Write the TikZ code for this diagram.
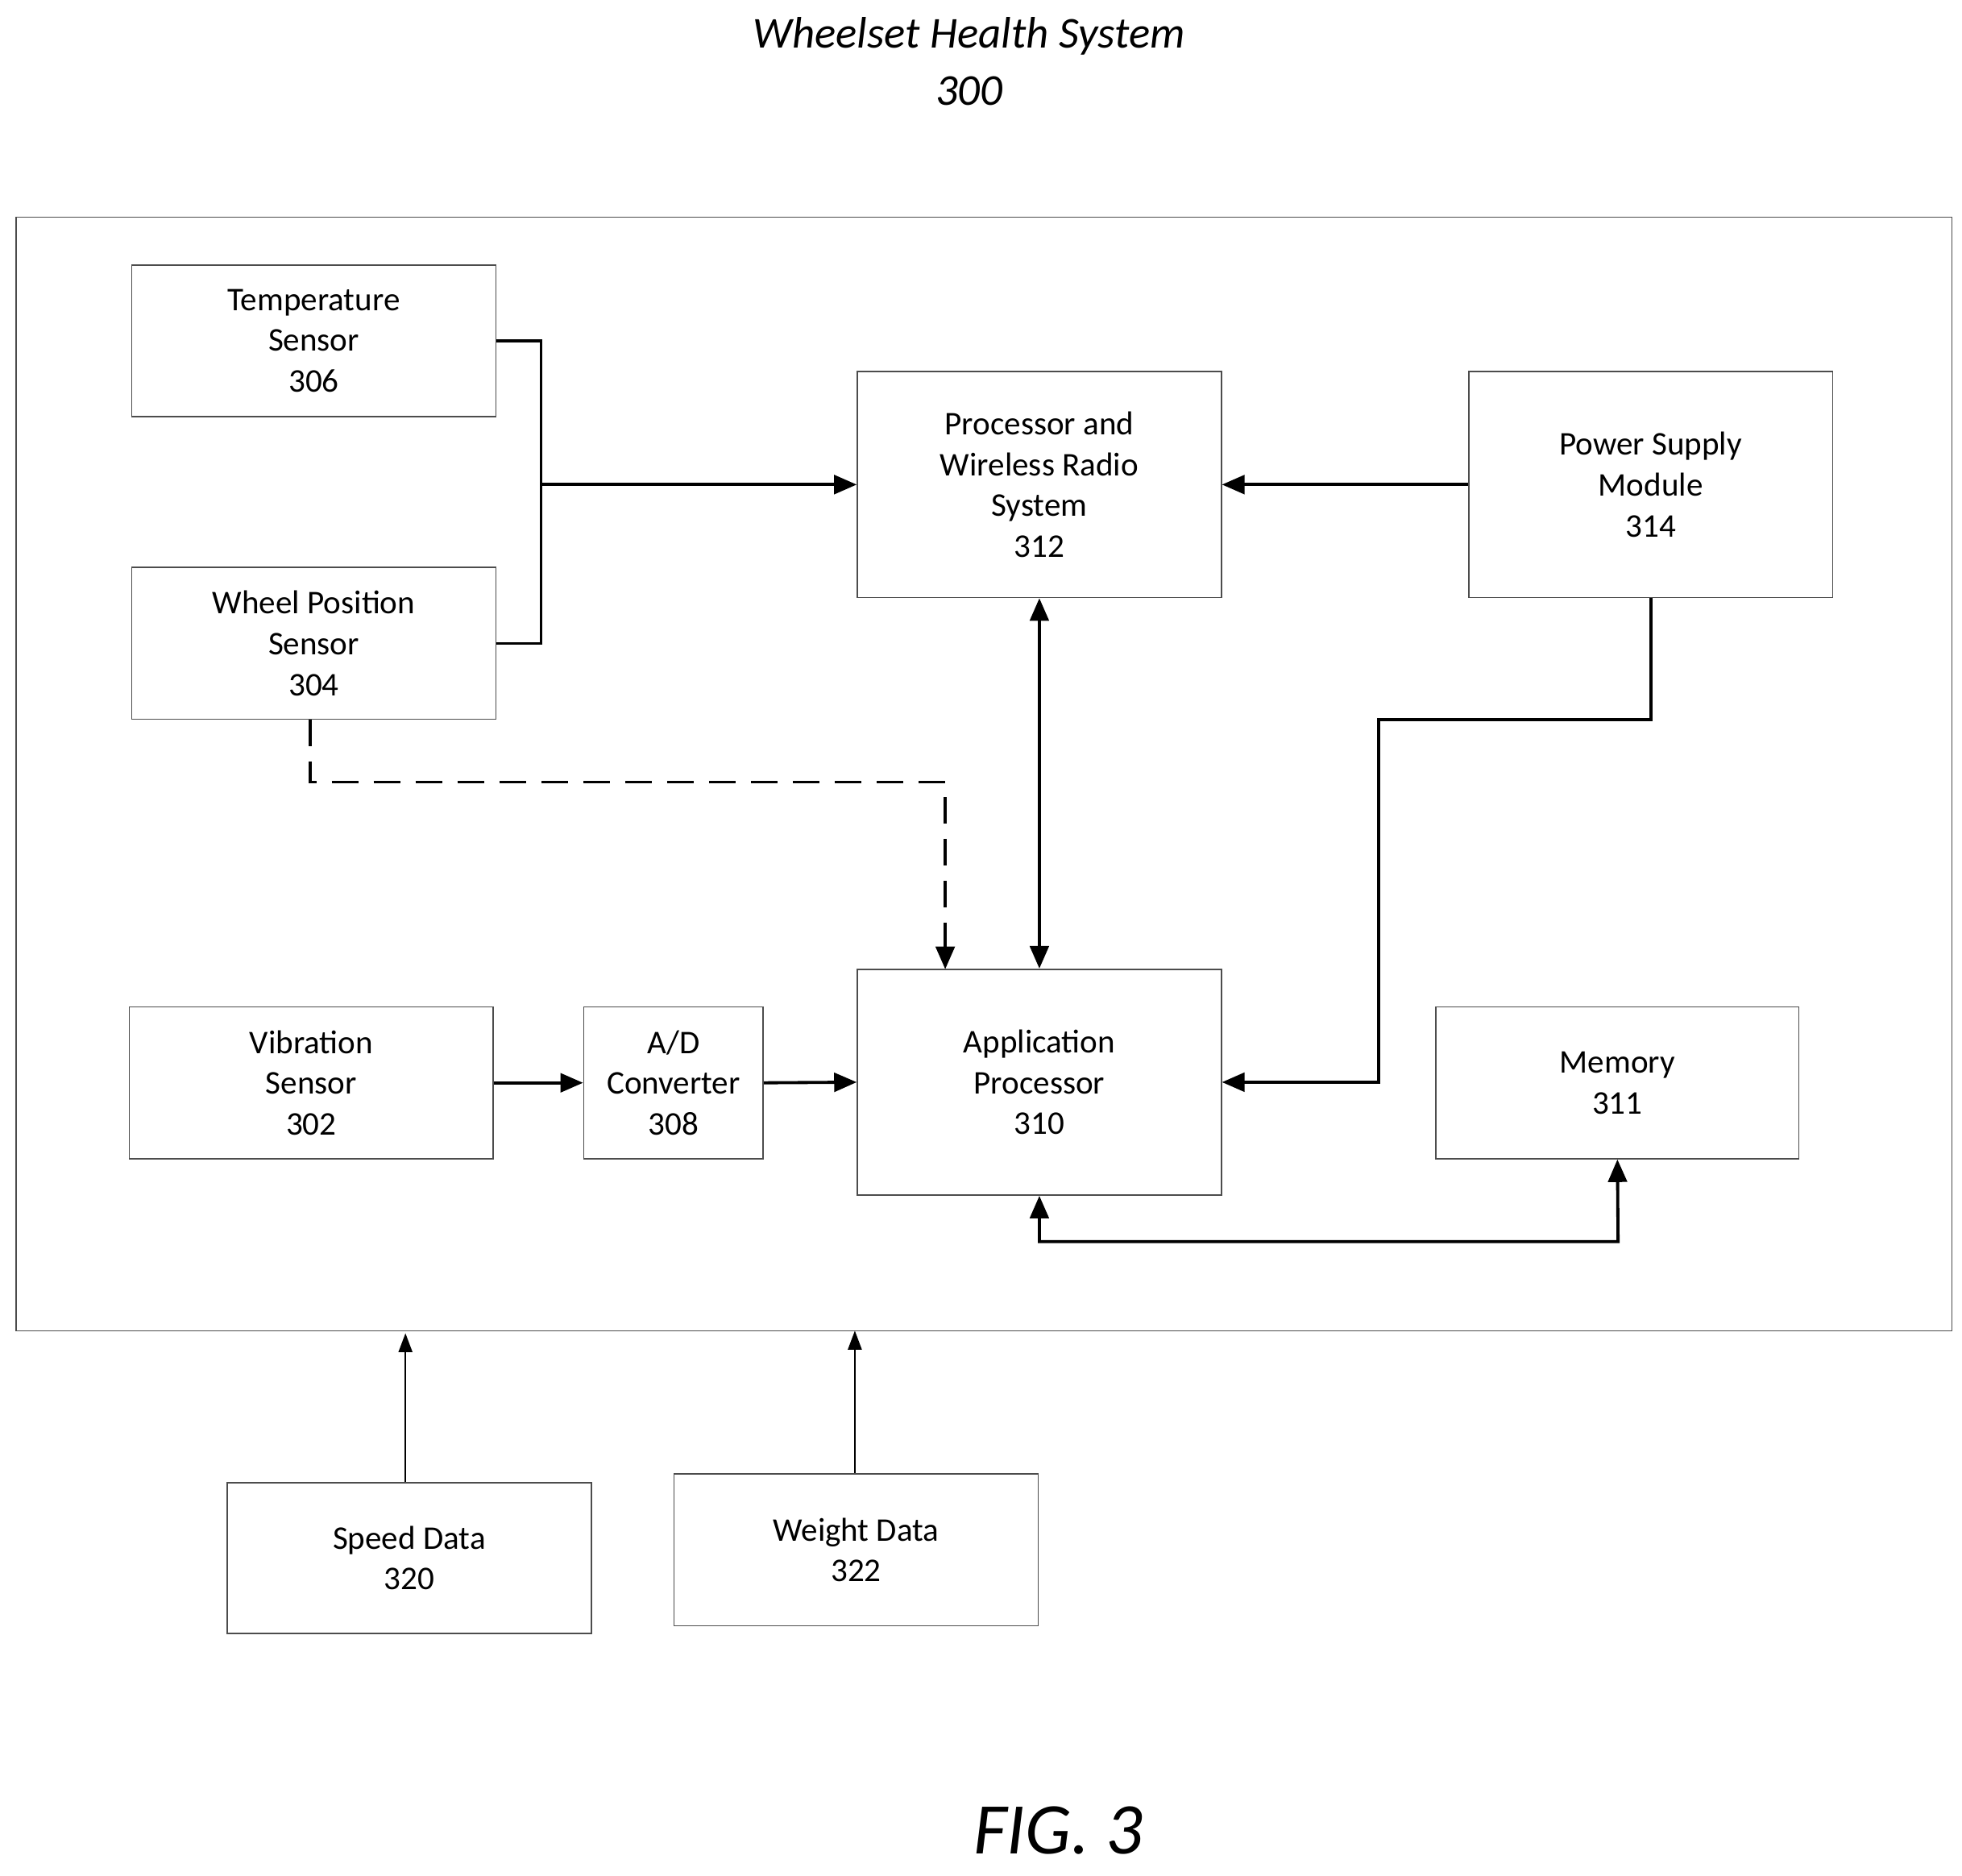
\documentclass[tikz,border=0pt]{standalone}
\usepackage{fontspec}
\setmainfont{Carlito}
\usetikzlibrary{arrows.meta}
\begin{document}
\begin{tikzpicture}[x=0.02cm,y=-0.02cm,
  box/.style={draw=black!70,line width=0.6pt,align=center,inner sep=0pt,font=\fontsize{15}{18.5}\selectfont},
  conn/.style={line width=1.4pt},
  arr/.style={conn,-{Triangle[length=0.36cm,width=0.3cm]}},
  darr/.style={conn,{Triangle[length=0.36cm,width=0.3cm]}-{Triangle[length=0.36cm,width=0.3cm]}}]
\useasboundingbox (0,0) rectangle (1563,1494);
\node[font=\itshape\fontsize{20}{26}\selectfont,align=center] (title) at (772,49) {Wheelset Health System\\300};
\node[font=\itshape\fontsize{33}{40}\selectfont] (fig) at (843,1458) {FIG. 3};
\node[draw=black!70,line width=0.6pt,minimum width=1542*0.02cm,minimum height=887*0.02cm] (outer) at (784,616.5) {};
\node[box,minimum width=5.8cm,minimum height=2.42cm] (t) at (250,271.5) {Temperature\\Sensor\\306};
\node[box,minimum width=5.8cm,minimum height=2.42cm] (w) at (250,512.5) {Wheel Position\\Sensor\\304};
\node[box,minimum width=5.8cm,minimum height=3.6cm] (p) at (828,386) {Processor and\\Wireless Radio\\System\\312};
\node[box,minimum width=5.8cm,minimum height=3.6cm] (ps) at (1315,386) {Power Supply\\Module\\314};
\node[box,minimum width=5.8cm,minimum height=2.42cm] (v) at (248,862.5) {Vibration\\Sensor\\302};
\node[box,minimum width=2.86cm,minimum height=2.42cm] (ad) at (536.5,862.5) {A/D\\Converter\\308};
\node[box,minimum width=5.8cm,minimum height=3.6cm] (a) at (828,862) {Application\\Processor\\310};
\node[box,minimum width=5.78cm,minimum height=2.42cm] (m) at (1288.5,862.5) {Memory\\311};
\node[box,minimum width=5.8cm,minimum height=2.4cm] (s) at (326,1241) {Speed Data\\320};
\node[box,minimum width=5.8cm,minimum height=2.42cm] (wd) at (682,1234.5) {Weight Data\\322};
\coordinate (j) at (431,386);
\draw[conn] (t.east) -| (j) |- (w.east);
\draw[arr] (j) -- (p.west);
\draw[arr] (ps.west) -- (p.east);
\draw[darr] (p.south) -- (a.north);
\draw[arr] (ps.south) |- (1098,573) |- (a.east);
\draw[arr,dash pattern=on 12pt off 7pt] (w.south -| 247,0) -- (247,623) -| (753,772);
\draw[arr] (v.east) -- (ad.west);
\draw[arr] (ad.east) -- (a.west);
\draw[darr] (a.south) |- (1289,989) -- (m.south);
\draw[-{Triangle[length=0.3cm,width=0.22cm]},line width=0.6pt] (s.north -| 323,0) -- (323,1062);
\draw[-{Triangle[length=0.3cm,width=0.22cm]},line width=0.6pt] (wd.north -| 681,0) -- (681,1060);
\end{tikzpicture}
\end{document}
